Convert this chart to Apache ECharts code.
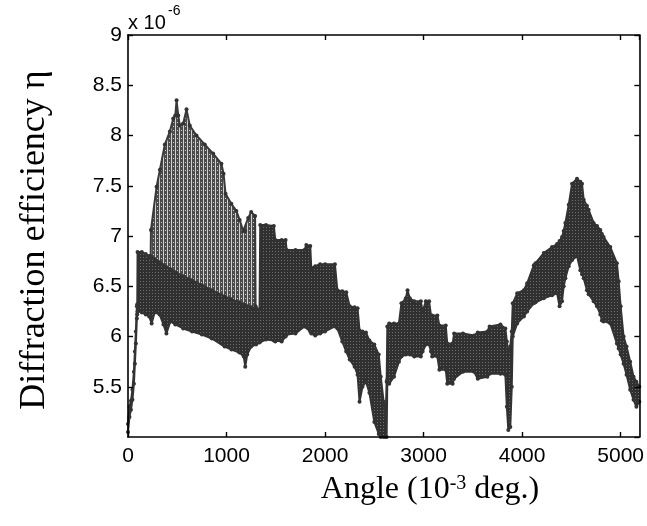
<!DOCTYPE html>
<html><head><meta charset="utf-8">
<script src="https://cdn.jsdelivr.net/npm/echarts@6/dist/echarts.min.js"></script>
<style>html,body{margin:0;padding:0;background:#fff}#c{width:647px;height:526px}</style>
</head><body><div id="c"></div>
<script>
// Angle values (10^-3 deg.) and band envelopes of diffraction efficiency (x 10^-6)
const bandX = [0,15,30,45,60,70,80,90,94,97,140,180,215,240,270,320,360,390,430,480,560,650,750,850,980,1050,1130,1175,1190,1210,1250,1300,1335,1342,1400,1480,1495,1560,1600,1610,1700,1790,1810,1850,1860,1900,1950,2000,2100,2125,2175,2215,2250,2300,2330,2350,2380,2415,2450,2500,2545,2565,2595,2615,2625,2632,2651,2700,2750,2775,2820,2837,2860,2905,2972,2990,3023,3056,3075,3087,3140,3160,3225,3240,3295,3310,3400,3512,3550,3647,3670,3780,3830,3845,3860,3880,3895,3905,3950,4018,4051,4119,4136,4220,4304,4355,4380,4405,4422,4439,4473,4507,4557,4591,4608,4625,4658,4675,4726,4760,4794,4810,4827,4895,4962,4980,5000,5030,5060,5097,5131,5160,5190];
const bandLow = [5.05,5.20,5.27,5.37,5.53,5.73,5.93,6.18,6.22,6.25,6.24,6.22,6.20,6.13,6.24,6.22,6.12,6.03,6.15,6.12,6.08,6.05,6.02,5.98,5.90,5.87,5.84,5.80,5.70,5.82,5.90,5.92,5.94,5.95,5.97,5.96,5.95,5.95,6.00,6.02,6.03,6.10,6.10,6.05,6.03,6.01,6.03,6.05,6.10,6.08,5.95,5.85,5.77,5.70,5.62,5.35,5.50,5.55,5.44,5.15,5.03,5.00,5.00,5.00,5.00,5.57,5.53,5.60,5.75,5.80,5.82,5.83,5.82,5.80,5.80,5.85,5.92,5.92,5.85,5.80,5.80,5.67,5.67,5.53,5.53,5.58,5.65,5.65,5.58,5.60,5.63,5.63,5.62,5.30,5.07,5.10,5.50,6.00,6.13,6.20,6.25,6.33,6.34,6.38,6.41,6.43,6.30,6.35,6.50,6.58,6.70,6.76,6.80,6.66,6.62,6.58,6.46,6.42,6.35,6.30,6.22,6.16,6.15,6.13,5.93,5.88,5.82,5.73,5.62,5.47,5.37,5.30,5.35];
const bandHigh = [5.13,5.30,5.36,5.47,5.65,5.85,6.05,6.30,6.32,6.84,6.84,6.82,6.80,6.78,6.77,6.74,6.71,6.69,6.67,6.64,6.60,6.56,6.51,6.46,6.40,6.37,6.34,6.32,6.31,6.30,6.29,6.28,6.27,7.11,7.11,7.10,6.96,6.96,6.96,6.86,6.86,6.86,6.91,6.90,6.68,6.70,6.72,6.72,6.72,6.46,6.45,6.44,6.30,6.29,6.28,6.06,6.05,6.04,5.96,5.92,5.82,5.60,5.35,5.20,5.55,6.10,6.13,6.13,6.13,6.33,6.38,6.46,6.38,6.35,6.35,6.25,6.35,6.35,6.21,6.21,6.21,6.11,6.11,5.93,5.93,6.03,6.03,6.01,6.04,6.05,6.10,6.12,6.08,5.95,5.85,5.90,6.05,6.33,6.43,6.46,6.53,6.71,6.73,6.83,6.89,6.92,6.95,6.99,7.05,7.13,7.31,7.52,7.57,7.54,7.52,7.36,7.30,7.26,7.13,7.10,7.06,7.02,6.99,6.89,6.73,6.55,6.30,6.00,5.90,5.75,5.60,5.55,5.50];
// sparser upper (hatched) part of the scatter between ~230 and ~1300
const hatchX = [230,233,290,324,374,425,459,480,493,510,526,560,594,627,695,779,864,948,970,990,1049,1100,1133,1170,1190,1220,1250,1290,1295];
const hatchHigh = [6.80,7.06,7.49,7.66,7.91,8.04,8.17,8.20,8.35,8.20,8.10,8.12,8.26,8.10,8.00,7.91,7.82,7.72,7.62,7.42,7.32,7.25,7.16,7.05,7.05,7.18,7.24,7.20,6.30];

// texture tiles imitating densely packed markers
function tile(w, h, bg, fg, cells) {
  const c = document.createElement('canvas'); c.width = w; c.height = h;
  const g = c.getContext('2d'); g.fillStyle = bg; g.fillRect(0, 0, w, h);
  g.fillStyle = fg; cells.forEach(r => g.fillRect(r[0], r[1], r[2], r[3]));
  return {image: c, repeat: 'repeat'};
}
const hatchFill = tile(4, 4, '#4a4a4a', '#d2d2d2', [[3,0,1,4],[1,2,1,1]]);
const darkFill = tile(3, 3, '#303030', '#6e6e6e', [[2,2,1,1]]);

const chart = echarts.init(document.getElementById('c'), null, {renderer:'canvas'});
const pairs = (xs, ys) => xs.map((x, i) => [x, ys[i]]);
const tickFont = {fontFamily:'Liberation Sans, Arial, sans-serif', fontSize:21, color:'#000'};
const axisLine = {show:true, onZero:false, lineStyle:{color:'#000', width:1.6}};
const axisTick = {show:true, inside:true, length:5, lineStyle:{color:'#000', width:1.4}};
const edgeDot = {color:'#333', borderWidth:0};
chart.setOption({
  animation:false,
  backgroundColor:'#fff',
  grid:{left:128, right:6, top:35, bottom:89, containLabel:false},
  xAxis:[
    {type:'value', min:0, max:5190, interval:1000, position:'bottom', z:10,
     axisLine, axisTick, splitLine:{show:false},
     axisLabel:Object.assign({margin:9, showMaxLabel:false, formatter:v => String(v)}, tickFont)},
    {type:'value', min:0, max:5190, interval:1000, position:'top', z:10,
     axisLine, axisTick, splitLine:{show:false}, axisLabel:{show:false}}
  ],
  yAxis:[
    {type:'value', min:5, max:9, interval:0.5, position:'left', z:10,
     axisLine, axisTick, splitLine:{show:false},
     axisLabel:Object.assign({margin:6, showMinLabel:false, formatter:v => String(v)}, tickFont)},
    {type:'value', min:5, max:9, interval:0.5, position:'right', z:10,
     axisLine, axisTick, splitLine:{show:false}, axisLabel:{show:false}}
  ],
  series:[
    {type:'line', data:pairs(hatchX, hatchHigh), symbol:'circle', symbolSize:4, showSymbol:true, z:1,
     itemStyle:edgeDot, lineStyle:{color:'#3a3a3a', width:2}, areaStyle:{color:hatchFill, opacity:1, origin:'start'}},
    {type:'line', data:pairs(bandX, bandHigh), symbol:'circle', symbolSize:4, showSymbol:true, z:2,
     itemStyle:edgeDot, lineStyle:{color:'#333', width:2}, areaStyle:{color:darkFill, opacity:1, origin:'start'}},
    {type:'line', data:pairs(bandX, bandLow), symbol:'circle', symbolSize:4, showSymbol:true, z:3,
     itemStyle:edgeDot, lineStyle:{color:'#333', width:2}, areaStyle:{color:'#ffffff', opacity:1, origin:'start'}}
  ],
  graphic:[
    {type:'text', left:128, top:13, style:{text:'x 10', font:'20px "Liberation Sans", Arial, sans-serif', fill:'#000'}},
    {type:'text', left:168, top:4, style:{text:'-6', font:'14px "Liberation Sans", Arial, sans-serif', fill:'#000'}},
    {type:'text', x:35, y:240, rotation:Math.PI/2,
     style:{text:'Diffraction efficiency η', font:'36px "Liberation Serif", "Times New Roman", serif', fill:'#000', align:'center', verticalAlign:'middle'}},
    {type:'text', x:430, y:490,
     style:{text:'{a|Angle (10}{s|-3}{a| deg.)}', align:'center', verticalAlign:'middle',
       rich:{a:{fontFamily:'Liberation Serif', fontSize:32, fill:'#000', color:'#000', verticalAlign:'bottom'},
             s:{fontFamily:'Liberation Serif', fontSize:20, fill:'#000', color:'#000', verticalAlign:'top'}}}}
  ]
});
</script></body></html>
